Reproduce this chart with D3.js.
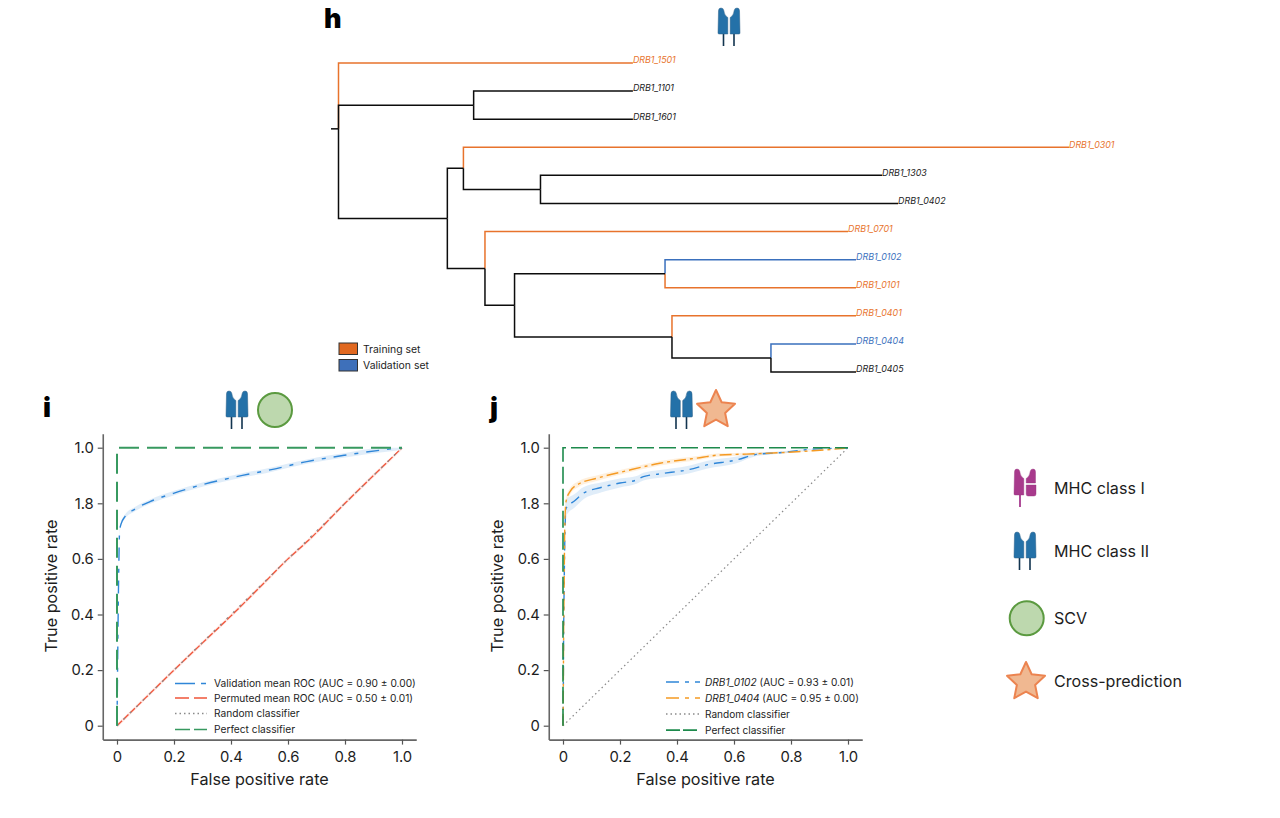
<!DOCTYPE html>
<html><head><meta charset="utf-8">
<script src="https://cdn.jsdelivr.net/npm/d3@7"></script>
<style>
html,body{margin:0;padding:0;background:#fff}
svg{display:block;font-family:Inter,"Noto Sans",sans-serif}
text{fill:#1d1d1d}
</style></head><body>
<svg id="c" width="1280" height="818" viewBox="0 0 1280 818"></svg>
<script>
// ---------- tree data ----------
const treeIds     = ["root","DRB1_1501","A","DRB1_1101","DRB1_1601","B","C","DRB1_0301","D","DRB1_1303","DRB1_0402","E","DRB1_0701","F","G","DRB1_0102","DRB1_0101","H","DRB1_0401","I","DRB1_0404","DRB1_0405"];
const treeParents = ["","root","root","A","A","root","B","C","C","D","D","B","E","E","F","G","G","F","H","H","I","I"];
const treeDepths  = [0,0.403,0.185,0.403,0.403,0.149,0.171,1,0.2765,0.744,0.766,0.2005,0.6975,0.241,0.447,0.7085,0.7085,0.4565,0.7085,0.592,0.7085,0.7085];
const trainingSet   = ["DRB1_1501","DRB1_0301","DRB1_0701","DRB1_0101","DRB1_0401"];
const validationSet = ["DRB1_0102","DRB1_0404"];
const treeLegend = ["Training set","Validation set"];

// ---------- ROC data ----------
const tickValues = [0,0.2,0.4,0.6,0.8,1];
const xTickLabels = ["0","0.2","0.4","0.6","0.8","1.0"];
const yTickLabels = ["0","0.2","0.4","0.6","1.8","1.0"];

const valFpr = [0,0.001,0.003,0.006,0.009,0.014,0.028,0.063,0.116,0.198,0.303,0.42,0.537,0.666,0.806,0.923,1];
const valTpr = [0,0.1,0.3,0.55,0.698,0.725,0.752,0.779,0.806,0.836,0.868,0.896,0.92,0.95,0.974,0.991,1];
const permFpr = [0,0.1,0.2,0.3,0.4,0.5,0.6,0.67,0.8,0.9,1];
const permTpr = [0,0.1,0.2,0.298,0.395,0.497,0.6,0.665,0.8,0.9,1];
const diagFpr = [0,1];
const diagTpr = [0,1];
const perfectFpr = [0,0,1];
const perfectTpr = [0,1,1];

const b0102Fpr = [0,0.001,0.002,0.004,0.007,0.0105,0.042,0.071,0.13,0.2,0.258,0.282,0.34,0.445,0.504,0.609,0.679,0.761,0.866,1];
const b0102Tpr = [0,0.1,0.3,0.5,0.7,0.782,0.81,0.836,0.856,0.873,0.884,0.896,0.906,0.922,0.938,0.956,0.976,0.982,0.994,0.999];
const b0102Err = [0,0.004,0.006,0.01,0.02,0.028,0.024,0.022,0.018,0.016,0.014,0.014,0.014,0.014,0.014,0.012,0.006,0.004,0.002,0];
const b0404Fpr = [0,0.001,0.002,0.004,0.006,0.0105,0.0245,0.054,0.118,0.223,0.34,0.48,0.55,0.644,0.761,0.877,0.99];
const b0404Tpr = [0,0.1,0.3,0.5,0.7,0.806,0.842,0.869,0.89,0.917,0.944,0.964,0.974,0.977,0.982,0.989,0.998];
const b0404Err = [0,0.003,0.004,0.006,0.01,0.012,0.012,0.01,0.01,0.008,0.008,0.007,0.006,0.005,0.003,0.002,0];

const legendI = ["Validation mean ROC (AUC = 0.90 ± 0.00)","Permuted mean ROC (AUC = 0.50 ± 0.01)","Random classifier","Perfect classifier"];
const legendJ = [["DRB1_0102"," (AUC = 0.93 ± 0.01)"],["DRB1_0404"," (AUC = 0.95 ± 0.00)"],["","Random classifier"],["","Perfect classifier"]];
const keyLabels = ["MHC class I","MHC class II","SCV","Cross-prediction"];

// ---------- colours ----------
const ORANGE="#e8732c", BLUE="#3a70bd", BLACK="#0c0c0c";
const cVal="#2f86d8", cPerm="#f0553a", cRand="#8a8a8a", cPerfI="#37995f", cPerfJ="#1d8a4c", c0404="#f59a23";

const svg=d3.select("#c");

// ---------- tree ----------
const root=d3.stratify().id((d,i)=>treeIds[i]).parentId((d,i)=>treeParents[i]||null)(treeIds);
const depthOf=new Map(treeIds.map((n,i)=>[n,treeDepths[i]]));
const xT=d3.scaleLinear().domain([0,1]).range([338.5,1069]);
const leafNames=root.leaves().map(d=>d.id);
const yT=d3.scaleLinear().domain([0,leafNames.length-1]).range([63,372]);
root.eachAfter(n=>{
  n.py = n.children ? d3.mean(n.children,c=>c.py) : yT(leafNames.indexOf(n.id));
  n.px = xT(depthOf.get(n.id));
});
const colorOf=id=>trainingSet.includes(id)?ORANGE:validationSet.includes(id)?BLUE:BLACK;
const gT=svg.append("g").attr("fill","none").attr("stroke-width",1.5);
const links=root.links().sort((a,b)=>(colorOf(a.target.id)===BLACK?1:0)-(colorOf(b.target.id)===BLACK?1:0));
gT.selectAll("path.l").data(links).join("path").attr("class","l")
  .attr("stroke",d=>colorOf(d.target.id))
  .attr("d",d=>`M${d.source.px},${d.source.py}V${d.target.py}H${d.target.px}`);
gT.append("path").attr("stroke",BLACK).attr("d",`M${root.px-7.5},${root.py}H${root.px}`);
svg.append("g").selectAll("text").data(root.leaves()).join("text")
  .attr("x",d=>d.px).attr("y",d=>d.py+0.4).attr("font-size",8.9).attr("font-style","italic")
  .style("fill",d=>{const c=colorOf(d.id);return c===BLACK?"#1a1a1a":c;}).text(d=>d.id);
// tree legend
const tl=svg.append("g").selectAll("g").data(treeLegend).join("g").attr("transform",(d,i)=>`translate(339,${343+i*16.5})`);
tl.append("rect").attr("width",18.5).attr("height",11.5).attr("stroke","#333").attr("stroke-width",1)
  .attr("fill",(d,i)=>i?"#3e70ba":"#e1681f");
tl.append("text").attr("x",24).attr("y",9.5).attr("font-size",10.4).text(d=>d);

// ---------- panel letters ----------
[["h",324,28],["i",43,417],["j",490,417]].forEach(([t,x,y])=>
  svg.append("text").attr("x",x).attr("y",y).attr("font-size",27).attr("font-weight",900).style("fill","#000").text(t));

// ---------- ROC panels ----------
function panel(x0, opts){
  const x=d3.scaleLinear().domain([-0.05,1.05]).range([x0-14.25,x0+285+14.25]);
  const y=d3.scaleLinear().domain([-0.05,1.05]).range([739.6,433.8]);
  const g=svg.append("g");
  const line=d3.line().x(d=>x(d[0])).y(d=>y(d[1]));
  const smooth=d3.line().x(d=>x(d[0])).y(d=>y(d[1])).curve(d3.curveMonotoneX);
  const area=d3.area().x(d=>x(d[0])).y0(d=>y(d[1]-d[2])).y1(d=>y(Math.min(1,d[1]+d[2]))).curve(d3.curveMonotoneX);
  opts.bands.forEach(b=>g.append("path").attr("d",area(b.xs.map((v,i)=>[v,b.ys[i],b.err[i]]))).attr("fill",b.color).attr("opacity",0.15).attr("stroke","none"));
  opts.lines.forEach(l=>g.append("path").attr("fill","none")
    .attr("d",(l.linear?line:smooth)(l.xs.map((v,i)=>[v,l.ys[i]])))
    .attr("stroke",l.color).attr("stroke-width",l.w).attr("stroke-dasharray",l.dash));
  const ax=g.append("g").attr("transform","translate(0,739.6)")
    .call(d3.axisBottom(x).tickValues(tickValues).tickFormat((d,i)=>xTickLabels[i]).tickSizeOuter(0).tickSizeInner(5).tickPadding(7));
  const ay=g.append("g").attr("transform",`translate(${x0-14.25},0)`)
    .call(d3.axisLeft(y).tickValues(tickValues).tickFormat((d,i)=>yTickLabels[i]).tickSizeOuter(0).tickSizeInner(5).tickPadding(4));
  [ax,ay].forEach(a=>{
    a.select(".domain").attr("stroke","#666").attr("stroke-width",1.6);
    a.selectAll(".tick line").attr("stroke","#555").attr("stroke-width",1.2);
    a.selectAll("text").attr("font-size",14.8).attr("font-family","Inter,'Noto Sans',sans-serif").style("fill","#1d1d1d");
  });
  g.append("text").attr("x",x(0.5)).attr("y",785).attr("text-anchor","middle").attr("font-size",16.2).text("False positive rate");
  g.append("text").attr("transform",`translate(${x0-60},586) rotate(-90)`).attr("text-anchor","middle").attr("font-size",16.2).text("True positive rate");
  // legend
  const L=opts.legend;
  L.rows.forEach((r,i)=>{
    const yy=L.ys[i];
    g.append("line").attr("x1",L.x1).attr("x2",r.x2||L.x2).attr("y1",yy).attr("y2",yy)
      .attr("stroke",r.color).attr("stroke-width",r.w).attr("stroke-dasharray",r.dash);
    const t=g.append("text").attr("x",L.tx).attr("y",yy+3.6).attr("font-size",L.fs);
    if(r.ital) t.append("tspan").attr("font-style","italic").text(r.ital);
    t.append("tspan").text(r.text);
  });
}
panel(117,{
  bands:[{xs:valFpr,ys:valTpr,err:valTpr.map(()=>0.008),color:cVal},{xs:permFpr,ys:permTpr,err:permTpr.map(()=>0.007),color:cPerm}],
  lines:[
    {xs:permFpr,ys:permTpr,color:cPerm,w:1.3,dash:"7 2"},
    {xs:diagFpr,ys:diagTpr,color:cRand,w:1.2,dash:"2 7",linear:true},
    {xs:valFpr,ys:valTpr,color:cVal,w:1.4,dash:"13 8 4 8"},
    {xs:perfectFpr,ys:perfectTpr,color:cPerfI,w:2,dash:"20 8",linear:true}],
  legend:{x1:175,x2:207,tx:214,fs:10.2,ys:[683.5,698,713.5,729.5],rows:[
    {text:legendI[0],color:cVal,w:1.4,dash:"20 6 5 6"},
    {text:legendI[1],color:cPerm,w:1.4,dash:"14 5"},
    {text:legendI[2],color:cRand,w:1.3,dash:"1.5 3"},
    {text:legendI[3],color:cPerfI,w:1.7,dash:"15 4"}]}
});
panel(563,{
  bands:[{xs:b0102Fpr,ys:b0102Tpr,err:b0102Err,color:cVal},{xs:b0404Fpr,ys:b0404Tpr,err:b0404Err,color:c0404}],
  lines:[
    {xs:diagFpr,ys:diagTpr,color:cRand,w:1.2,dash:"1.5 3",linear:true},
    {xs:b0102Fpr,ys:b0102Tpr,color:cVal,w:1.4,dash:"10 6 3 6"},
    {xs:b0404Fpr,ys:b0404Tpr,color:c0404,w:1.4,dash:"12 4 3 4"},
    {xs:perfectFpr,ys:perfectTpr,color:cPerfJ,w:1.6,dash:"17 5",linear:true}],
  legend:{x1:666,x2:700,tx:705,fs:10.1,ys:[682,698,714,730.2],rows:[
    {ital:legendJ[0][0],text:legendJ[0][1],color:cVal,w:1.4,dash:"13 6 4 6"},
    {ital:legendJ[1][0],text:legendJ[1][1],color:c0404,w:1.4,dash:"13 6 4 6"},
    {text:legendJ[2][1],color:cRand,w:1.3,dash:"1.5 3"},
    {text:legendJ[3][1],color:cPerfJ,w:1.7,dash:"14 3",x2:697}]}
});

// ---------- icons ----------
const body2="M0.5,3Q0.5,0 3,0Q5.5,0 5.8,2.5Q6.2,7.5 9.8,9.5V26H1Q0,26 0,25Z M12.2,9.5Q15.8,7.5 16.2,2.5Q16.5,0 19,0Q21.5,0 21.5,3L22,25Q22,26 21,26H12.2Z";
function mhc2(x,y){
  const g=svg.append("g").attr("transform",`translate(${x},${y})`);
  g.append("path").attr("d","M5.5,26V38M16,26V38").attr("stroke","#12344f").attr("stroke-width",1.6).attr("fill","none");
  g.append("path").attr("d",body2).attr("fill","#2471a8").attr("stroke","#2a5f86").attr("stroke-width",0.5);
}
function mhc1(x,y){
  const g=svg.append("g").attr("transform",`translate(${x},${y})`);
  g.append("path").attr("d","M6,26V38").attr("stroke","#a63a8e").attr("stroke-width",1.8).attr("fill","none");
  g.append("path").attr("d","M0.5,3Q0.5,0 3,0Q5.5,0 5.8,2.5Q6.2,7.5 9.8,9.5V26H1Q0,26 0,25Z M12.2,9.5Q15.8,7.5 16.2,2.5Q16.5,0 19,0Q21.5,0 21.5,3V14H12.2Z M12.2,16H22V25Q22,27 20,27H14Q12.2,27 12.2,25Z")
    .attr("fill","#a83a8c").attr("stroke","#94317b").attr("stroke-width",0.4);
}
function scv(x,y){svg.append("circle").attr("cx",x).attr("cy",y).attr("r",17).attr("fill","#bdd8ae").attr("stroke","#5b9a40").attr("stroke-width",2);}
function star(x,y){
  const pts=d3.range(10).map(i=>[i*Math.PI/5,i%2?9.6:20]);
  svg.append("path").attr("transform",`translate(${x},${y})`).attr("d",d3.lineRadial().curve(d3.curveLinearClosed)(pts))
    .attr("fill","#f0b891").attr("stroke","#ec8450").attr("stroke-width",2).attr("stroke-linejoin","round");
}
mhc2(718,8); mhc2(226,391); mhc2(670.5,391); scv(275,410); star(716,410);
mhc1(1014,469); mhc2(1014,532); scv(1026.7,618.3); star(1026,682);
svg.append("g").selectAll("text").data(keyLabels).join("text")
  .attr("x",1054).attr("y",(d,i)=>[494,557,624,687][i]).attr("font-size",16.1).text(d=>d);
</script>
</body></html>
